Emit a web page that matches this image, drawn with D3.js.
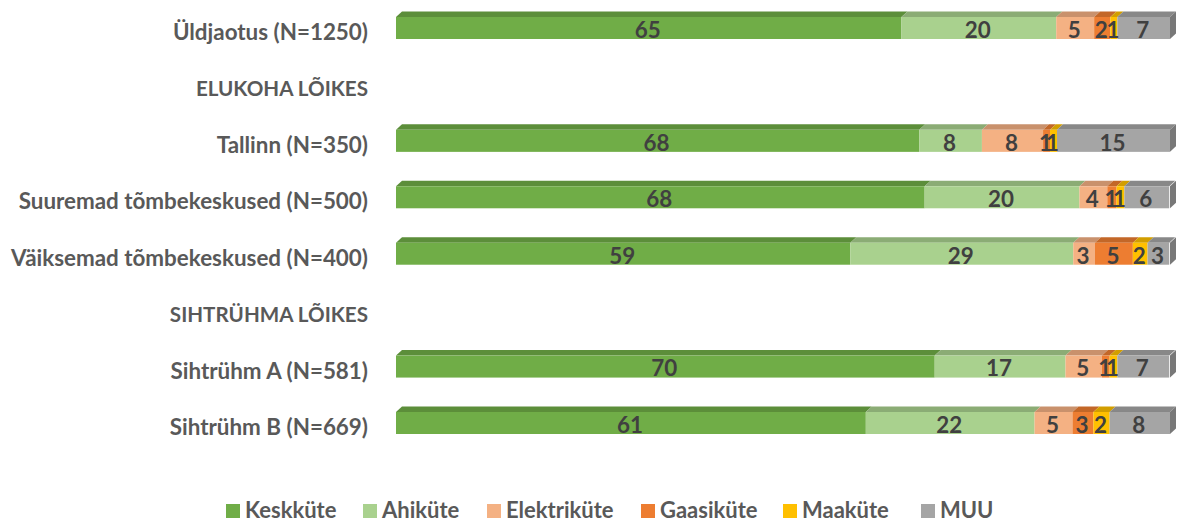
<!DOCTYPE html>
<html><head><meta charset="utf-8">
<script src="https://cdn.jsdelivr.net/npm/d3@7/dist/d3.min.js"></script>
<style>
html,body{margin:0;padding:0;background:#fff}
svg{display:block}
text{font-family:Lato,"Open Sans",sans-serif;font-weight:700}
</style></head><body>
<svg id="c" width="1180" height="519"></svg>
<script>
const categories = ["Üldjaotus (N=1250)","ELUKOHA LÕIKES","Tallinn (N=350)","Suuremad tõmbekeskused (N=500)","Väiksemad tõmbekeskused (N=400)","SIHTRÜHMA LÕIKES","Sihtrühm A (N=581)","Sihtrühm B (N=669)"];
const seriesNames = ["Keskküte","Ahiküte","Elektriküte","Gaasiküte","Maaküte","MUU"];
const colors = ["#70ad47","#a9d18e","#f4b183","#ed7d31","#ffc000","#a5a5a5"];
const keskkute   = [65.3,null,67.6,68.3,58.7,null,69.6,60.7];
const ahikute    = [20.0,null, 8.1,20.0,28.8,null,16.9,21.8];
const elektri    = [ 4.9,null, 7.9, 3.6, 2.8,null, 4.7, 4.9];
const gaasikute  = [ 2.1,null, 0.9, 1.2, 4.9,null, 1.0, 2.7];
const maakute    = [ 0.9,null, 0.9, 1.0, 1.9,null, 1.0, 2.1];
const muu        = [ 6.8,null,14.6, 5.8, 2.8,null, 6.7, 7.8];
const seriesValues = [keskkute,ahikute,elektri,gaasikute,maakute,muu];

const svg = d3.select("#c");
const x = d3.scaleLinear().domain([0,100]).range([396,1170]);
const y = d3.scaleBand().domain(categories).range([17,434]).paddingInner(0.61).paddingOuter(0);
const depthX = 6, depthY = 5.5;

const rows = categories.map((c,i)=>{
  let acc = 0;
  return {c, segs: seriesValues.map((s,k)=>{
    const v = s[i]; if (v==null) return null;
    const seg = {k, v, x0: acc, x1: acc+v}; acc += v; return seg;
  }).filter(Boolean)};
});

const chart = svg.append("g");
const g = chart.selectAll("g.row").data(rows.filter(r=>r.segs.length)).join("g").attr("class","row")
  .attr("transform", d=>`translate(0,${y(d.c)})`);
const h = y.bandwidth();

// top faces
g.selectAll("path.top").data(d=>d.segs).join("path").attr("class","top")
  .attr("fill", d=>d3.rgb(colors[d.k]).darker(0.55))
  .attr("d", d=>{const a=x(d.x0),b=x(d.x1);return `M${a},0L${a+depthX},${-depthY}L${b+depthX},${-depthY}L${b},0Z`;});
// right side face
g.append("path").attr("fill", d3.rgb(colors[5]).darker(0.9))
  .attr("d", ()=>{const b=x(100);return `M${b},0L${b+depthX},${-depthY}L${b+depthX},${h-depthY}L${b},${h}Z`;});
// fronts
g.selectAll("rect.front").data(d=>d.segs).join("rect").attr("class","front")
  .attr("x", d=>x(d.x0)).attr("y",0).attr("width", d=>x(d.x1)-x(d.x0)).attr("height",h)
  .attr("fill", d=>colors[d.k]);
// labels
g.selectAll("text.val").data(d=>d.segs).join("text").attr("class","val")
  .attr("x", d=>(x(d.x0)+x(d.x1))/2-1).attr("y",h/2+2).attr("dy","0.35em")
  .attr("text-anchor","middle").attr("font-size",22.4).attr("fill","#404040")
  .text(d=>d3.format(".0f")(d.v));

// category axis
const axis = svg.append("g").attr("transform","translate(376,5)")
  .call(d3.axisLeft(y).tickSize(0).tickPadding(8));
axis.select(".domain").remove();
axis.selectAll("text").attr("font-size",d=>d===d.toUpperCase()?20.6:22.4).attr("fill","#595959")
  .style("font-family","Lato,'Open Sans',sans-serif").style("font-weight",700);

// legend
const legendX = [226,363,487,641,783,921];
const leg = svg.append("g").selectAll("g").data(seriesNames).join("g")
  .attr("transform",(d,i)=>`translate(${legendX[i]},504)`);
leg.append("rect").attr("width",14).attr("height",14).attr("fill",(d,i)=>colors[i]);
leg.append("text").attr("x",i=>19).attr("y",14)
  .attr("font-size",22).attr("fill","#595959").text(d=>d);
</script>
</body></html>
